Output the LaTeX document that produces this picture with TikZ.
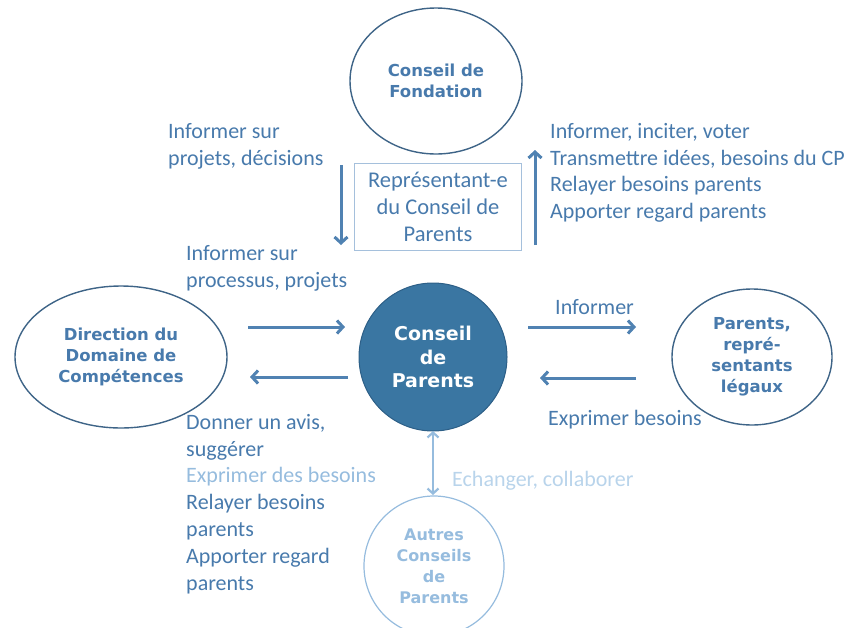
\documentclass[tikz,border=0pt]{standalone}
\usepackage{fontspec}
\setmainfont{Carlito}
\newfontfamily\vfont{DejaVu Sans}
\usetikzlibrary{arrows.meta,shapes.geometric}
\definecolor{txtblue}{RGB}{72,122,172}
\definecolor{ringblue}{RGB}{62,100,135}
\definecolor{arrblue}{RGB}{80,130,178}
\definecolor{boxblue}{RGB}{165,192,220}
\definecolor{cpfill}{RGB}{58,118,162}
\definecolor{cpline}{RGB}{45,95,135}
\definecolor{lightblue}{RGB}{150,188,222}
\definecolor{paleblue}{RGB}{185,212,235}

\begin{document}
\begin{tikzpicture}[x=1pt,y=-1pt, every node/.style={inner sep=0pt},
  lbl/.style={font=\fontsize{22}{26.8}\selectfont, text=txtblue, align=left, anchor=north west},
  title/.style={font=\vfont\bfseries\fontsize{16.5}{21}\selectfont, text=txtblue, align=center},
  ring/.style={ellipse, draw=ringblue, line width=1.4pt},
  flow/.style={draw=arrblue, line width=3pt, -{Straight Barb[length=6pt,width=13pt]}}]
\useasboundingbox (0,0) rectangle (856,627);

% the councils
\node[ring, minimum width=172pt, minimum height=146pt, title] (fond) at (436,81) {Conseil de\\Fondation};
\node[draw=boxblue, line width=1.2pt, minimum width=167pt, minimum height=87pt, font=\fontsize{22.5}{27}\selectfont, text=txtblue, align=center] (rep) at (438,207) {Représentant-e\\du Conseil de\\Parents};
\node[circle, fill=cpfill, draw=cpline, line width=1pt, minimum size=148pt, font=\vfont\bfseries\fontsize{19}{23.5}\selectfont, text=white, align=center] (cp) at (433,357) {Conseil\\de\\Parents};
\node[ring, minimum width=212pt, minimum height=142pt, title] (dir) at (121,357) {Direction du\\Domaine de\\Compétences};
\node[ring, minimum width=160pt, minimum height=136pt, title] (par) at (752,357) {Parents,\\repré-\\sentants\\légaux};
\node[circle, draw=lightblue, line width=1.2pt, minimum size=140pt, font=\vfont\bfseries\fontsize{16}{21}\selectfont, text=lightblue, align=center] (autres) at (434,566) {Autres\\Conseils\\de\\Parents};

% arrow ends
\coordinate (fd1) at (341,165); \coordinate (fd2) at (341,245);
\coordinate (fu1) at (535,245); \coordinate (fu2) at (535,150);
\coordinate (dr1) at (248,327); \coordinate (dr2) at (345,327);
\coordinate (dl1) at (348,377); \coordinate (dl2) at (250,377);
\coordinate (pr1) at (528,327); \coordinate (pr2) at (636,327);
\coordinate (pl1) at (636,378); \coordinate (pl2) at (540,378);
\coordinate (ac1) at (433,431); \coordinate (ac2) at (433,495);

\draw[flow] (fd1) -- (fd2);
\draw[flow] (fu1) -- (fu2);
\draw[flow] (dr1) -- (dr2);
\draw[flow] (dl1) -- (dl2);
\draw[flow] (pr1) -- (pr2);
\draw[flow] (pl1) -- (pl2);
\draw[flow, draw=lightblue, line width=2.2pt, {Straight Barb[length=5pt,width=11pt]}-{Straight Barb[length=5pt,width=11pt]}] (ac1) -- (ac2);

% labels
\node[lbl] (infproj) at (168,123) {Informer sur\\projets, décisions};
\node[lbl] (infvote) at (550,123) {Informer, inciter, voter\\Transmettre idées, besoins du CP\\Relayer besoins parents\\Apporter regard parents};
\node[lbl] (infproc) at (186,245) {Informer sur\\processus, projets};
\node[lbl] (infpar) at (555,299) {Informer};
\node[lbl] (exppar) at (548,410) {Exprimer besoins};
\node[lbl] (avis) at (186,414) {Donner un avis,\\suggérer\\{\color{lightblue}Exprimer des besoins}\\Relayer besoins\\parents\\Apporter regard\\parents};
\node[lbl, text=paleblue] (echange) at (452,471) {Echanger, collaborer};
\end{tikzpicture}
\end{document}
